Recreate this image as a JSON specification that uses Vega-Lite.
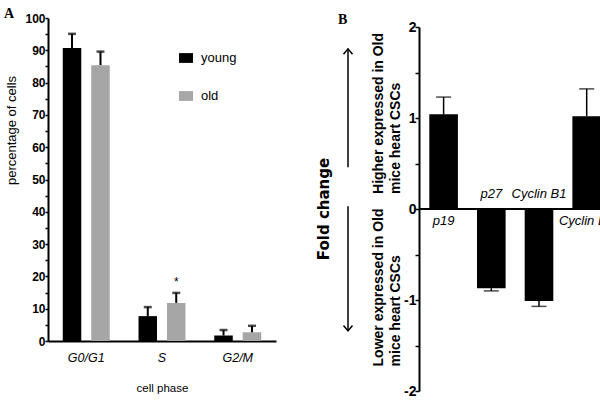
{
  "$schema": "https://vega.github.io/schema/vega-lite/v6.json",
  "background": "white",
  "padding": {"left": 3, "top": 7, "right": 0, "bottom": 0},
  "bounds": "flush",
  "spacing": 0,
  "config": {
    "view": {"stroke": null},
    "font": "Liberation Sans",
    "axis": {"domainColor": "black", "tickColor": "black", "labelColor": "black", "titleColor": "black", "grid": false, "labelOverlap": false}
  },
  "datasets": {
    "cells": [
      {"phase": "G0/G1", "group": "young", "value": 90.7, "errEnd": 95.1},
      {"phase": "G0/G1", "group": "old", "value": 85.4, "errEnd": 89.6},
      {"phase": "S", "group": "young", "value": 7.7, "errEnd": 10.5},
      {"phase": "S", "group": "old", "value": 11.8, "errEnd": 14.9, "sig": "*"},
      {"phase": "G2/M", "group": "young", "value": 1.7, "errEnd": 3.4},
      {"phase": "G2/M", "group": "old", "value": 2.7, "errEnd": 4.7}
    ],
    "genes": [
      {"gene": "p19", "value": 1.04, "errEnd": 1.23},
      {"gene": "p27", "value": -0.87, "errEnd": -0.9},
      {"gene": "Cyclin B1", "value": -1.01, "errEnd": -1.07},
      {"gene": "Cyclin D1", "value": 1.02, "errEnd": 1.32}
    ],
    "notes": [
      {"kind": "title", "text": "Fold change"},
      {"kind": "up", "text": "Higher expressed in Old\nmice heart CSCs"},
      {"kind": "down", "text": "Lower expressed in Old\nmice heart CSCs"}
    ]
  },
  "hconcat": [
    {
      "width": 228,
      "height": 323,
      "title": {"text": "A", "anchor": "start", "frame": "bounds", "font": "Liberation Serif", "fontSize": 14, "fontWeight": "bold", "color": "black", "offset": -9, "dx": -2},
      "data": {"name": "cells"},
      "encoding": {
        "x": {
          "field": "phase", "type": "nominal", "sort": ["G0/G1", "S", "G2/M"],
          "scale": {"paddingInner": 0.38, "paddingOuter": 0.195},
          "axis": {"title": "cell phase", "labelAngle": 0, "ticks": false, "domainWidth": 2, "labelFontStyle": "italic", "labelFontSize": 12.5, "labelPadding": 10, "titleFontSize": 11.5, "titleFontWeight": "normal", "titlePadding": 19}
        },
        "xOffset": {"field": "group", "type": "nominal", "sort": ["young", "old"], "scale": {"paddingInner": 0.35, "paddingOuter": 0}},
        "y": {
          "field": "value", "type": "quantitative",
          "scale": {"domain": [0, 100], "nice": false},
          "axis": {"values": [0, 5, 10, 15, 20, 25, 30, 35, 40, 45, 50, 55, 60, 65, 70, 75, 80, 85, 90, 95, 100], "labelExpr": "datum.value % 10 === 0 ? toString(datum.value) : ''", "labelOverlap": false, "domainWidth": 2, "tickWidth": 1.5, "tickSize": 3, "labelFontWeight": "bold", "labelFontSize": 12, "labelPadding": 0, "title": "percentage of cells", "titleFontSize": 13, "titleFontWeight": "normal", "titleY": 112, "titlePadding": 6}
        }
      },
      "layer": [
        {
          "mark": {"type": "bar"},
          "encoding": {
            "color": {
              "field": "group", "type": "nominal",
              "scale": {"domain": ["young", "old"], "range": ["#000000", "#a6a6a6"]},
              "legend": {"orient": "none", "legendX": 131, "legendY": 33, "title": null, "symbolType": "M-1,-0.7H1V0.7H-1Z", "symbolSize": 196, "symbolStrokeWidth": 0, "labelFontSize": 13, "labelOffset": 8, "rowPadding": 24, "labelColor": "black"}
            }
          }
        },
        {
          "mark": {"type": "rule", "color": "black", "strokeWidth": 2},
          "encoding": {
            "y2": {"field": "errEnd"}
          }
        },
        {
          "mark": {"type": "tick", "color": "black", "thickness": 2.5, "size": 8, "yOffset": 0},
          "encoding": {"y": {"field": "errEnd", "type": "quantitative", "axis": {"values": [0, 5, 10, 15, 20, 25, 30, 35, 40, 45, 50, 55, 60, 65, 70, 75, 80, 85, 90, 95, 100], "labelExpr": "datum.value % 10 === 0 ? toString(datum.value) : ''", "labelOverlap": false, "domainWidth": 2, "tickWidth": 1.5, "tickSize": 3, "labelFontWeight": "bold", "labelFontSize": 12, "labelPadding": 0, "title": "percentage of cells", "titleFontSize": 13, "titleFontWeight": "normal", "titleY": 112, "titlePadding": 6}}}
        },
        {
          "transform": [{"filter": "datum.sig"}],
          "mark": {"type": "text", "baseline": "bottom", "dy": -4, "fontSize": 12, "color": "black"},
          "encoding": {"y": {"field": "errEnd", "type": "quantitative", "axis": {"values": [0, 5, 10, 15, 20, 25, 30, 35, 40, 45, 50, 55, 60, 65, 70, 75, 80, 85, 90, 95, 100], "labelExpr": "datum.value % 10 === 0 ? toString(datum.value) : ''", "labelOverlap": false, "domainWidth": 2, "tickWidth": 1.5, "tickSize": 3, "labelFontWeight": "bold", "labelFontSize": 12, "labelPadding": 0, "title": "percentage of cells", "titleFontSize": 13, "titleFontWeight": "normal", "titleY": 112, "titlePadding": 6}}, "text": {"field": "sig"}}
        }
      ]
    },
    {
      "width": 143,
      "height": 373,
      "title": {"text": "B", "anchor": "start", "frame": "group", "font": "Liberation Serif", "fontSize": 14, "fontWeight": "bold", "color": "black", "offset": -9, "dx": 62},
      "data": {"name": "notes"},
      "encoding": {
        "x": {"datum": 48, "type": "quantitative", "scale": {"domain": [0, 143]}, "axis": null},
        "y": {"datum": 0, "type": "quantitative", "scale": {"domain": [-2, 2], "range": [373, 9], "nice": false}, "axis": null}
      },
      "layer": [
        {
          "transform": [{"filter": "datum.kind === 'title'"}],
          "mark": {"type": "text", "angle": 270, "font": "DejaVu Sans", "fontWeight": "bold", "fontSize": 15, "align": "center", "baseline": "middle", "color": "black"},
          "encoding": {
            "x": {"datum": 48, "type": "quantitative"},
            "y": {"datum": 0, "type": "quantitative"},
            "text": {"field": "text"}
          }
        },
        {
          "transform": [{"filter": "datum.kind === 'up'"}],
          "mark": {"type": "text", "angle": 270, "fontWeight": "bold", "fontSize": 14, "align": "left", "baseline": "middle", "lineBreak": "\n", "lineHeight": 17, "color": "black"},
          "encoding": {
            "x": {"datum": 102.5, "type": "quantitative"},
            "y": {"datum": 0.165, "type": "quantitative"},
            "text": {"field": "text"}
          }
        },
        {
          "transform": [{"filter": "datum.kind === 'down'"}],
          "mark": {"type": "text", "angle": 270, "fontWeight": "bold", "fontSize": 14, "align": "left", "baseline": "middle", "lineBreak": "\n", "lineHeight": 17, "color": "black"},
          "encoding": {
            "x": {"datum": 102.5, "type": "quantitative"},
            "y": {"datum": -1.73, "type": "quantitative"},
            "text": {"field": "text"}
          }
        },
        {
          "transform": [{"filter": "datum.kind === 'title'"}],
          "mark": {"type": "rule", "color": "black", "strokeWidth": 1.5},
          "encoding": {
            "x": {"datum": 72, "type": "quantitative"},
            "y": {"datum": 0.46, "type": "quantitative"},
            "y2": {"datum": 1.76}
          }
        },
        {
          "transform": [{"filter": "datum.kind === 'title'"}],
          "mark": {"type": "point", "shape": "M-1,0.6L0,-0.6L1,0.6", "size": 81, "filled": false, "strokeWidth": 1.5, "color": "black", "opacity": 1},
          "encoding": {
            "x": {"datum": 72, "type": "quantitative"},
            "y": {"datum": 1.73, "type": "quantitative"}
          }
        },
        {
          "transform": [{"filter": "datum.kind === 'title'"}],
          "mark": {"type": "rule", "color": "black", "strokeWidth": 1.5},
          "encoding": {
            "x": {"datum": 72, "type": "quantitative"},
            "y": {"datum": 0.03, "type": "quantitative"},
            "y2": {"datum": -1.34}
          }
        },
        {
          "transform": [{"filter": "datum.kind === 'title'"}],
          "mark": {"type": "point", "shape": "M-1,-0.6L0,0.6L1,-0.6", "size": 81, "filled": false, "strokeWidth": 1.5, "color": "black", "opacity": 1},
          "encoding": {
            "x": {"datum": 72, "type": "quantitative"},
            "y": {"datum": -1.31, "type": "quantitative"}
          }
        }
      ]
    },
    {
      "width": 182,
      "height": 373,
      "data": {"name": "genes"},
      "layer": [
        {
          "mark": {"type": "bar", "color": "black", "clip": true},
          "encoding": {
            "x": {"field": "gene", "type": "nominal", "sort": null, "axis": null, "scale": {"paddingInner": 0.4, "paddingOuter": 0.108, "align": 1}},
            "y": {
              "field": "value", "type": "quantitative",
              "scale": {"domain": [-2, 2], "range": [373, 9], "nice": false, "zero": false},
              "axis": {"values": [-2, -1.5, -1, -0.5, 0, 0.5, 1, 1.5, 2], "labelExpr": "datum.value % 1 === 0 ? toString(datum.value) : ''", "labelOverlap": false, "title": null, "domainWidth": 2, "tickWidth": 1.5, "tickSize": 4, "labelFontWeight": "bold", "labelFontSize": 14, "labelPadding": -1}
            }
          }
        },
        {
          "mark": {"type": "rule", "color": "black", "strokeWidth": 1.5, "clip": true},
          "encoding": {
            "x": {"field": "gene", "type": "nominal", "sort": null},
            "y": {"field": "value", "type": "quantitative"},
            "y2": {"field": "errEnd"}
          }
        },
        {
          "mark": {"type": "tick", "color": "black", "thickness": 1.5, "size": 15, "clip": true},
          "encoding": {
            "x": {"field": "gene", "type": "nominal", "sort": null},
            "y": {"field": "errEnd", "type": "quantitative"}
          }
        },
        {
          "mark": {"type": "rule", "color": "black", "strokeWidth": 2},
          "encoding": {"y": {"datum": 0, "type": "quantitative"}}
        },
        {
          "transform": [{"filter": "datum.value > 0"}],
          "mark": {"type": "text", "baseline": "top", "dy": 6, "fontStyle": "italic", "fontSize": 13, "color": "black", "clip": true},
          "encoding": {
            "x": {"field": "gene", "type": "nominal", "sort": null},
            "y": {"datum": 0, "type": "quantitative"},
            "text": {"field": "gene"}
          }
        },
        {
          "transform": [{"filter": "datum.value < 0"}],
          "mark": {"type": "text", "baseline": "bottom", "dy": -8, "fontStyle": "italic", "fontSize": 13, "color": "black", "clip": true},
          "encoding": {
            "x": {"field": "gene", "type": "nominal", "sort": null},
            "y": {"datum": 0, "type": "quantitative"},
            "text": {"field": "gene"}
          }
        }
      ]
    }
  ]
}
